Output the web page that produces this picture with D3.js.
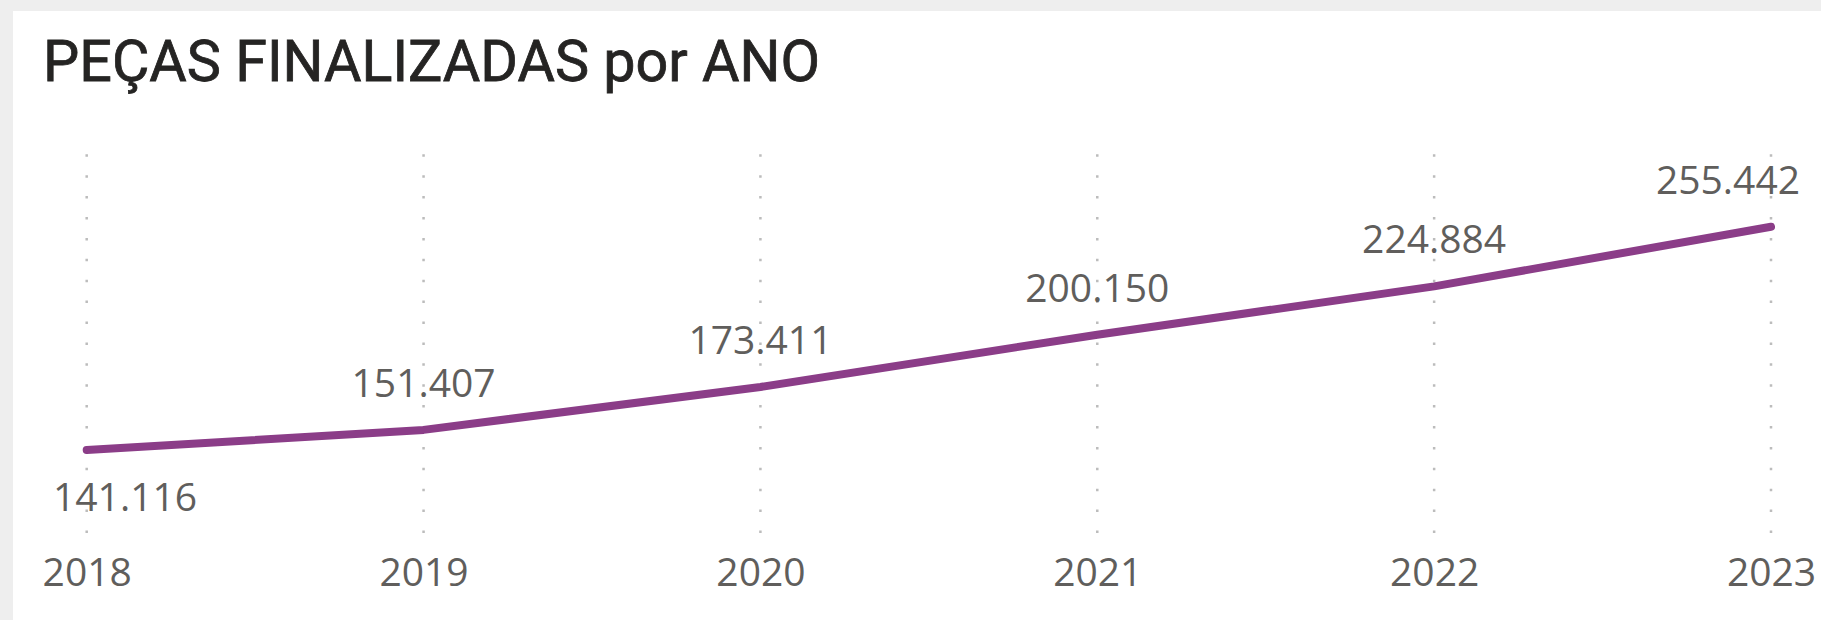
<!DOCTYPE html>
<html>
<head>
<meta charset="utf-8">
<script src="https://cdn.jsdelivr.net/npm/d3@7"></script>
<style>
  body { margin: 0; background: #eeeeee; }
  svg { display: block; }
</style>
</head>
<body>
<svg width="1821" height="620"></svg>
<script>
var years = ["2018", "2019", "2020", "2021", "2022", "2023"];
var pecas = [141116, 151407, 173411, 200150, 224884, 255442];
var titleText = "PEÇAS FINALIZADAS por ANO";

var svgWidth = 1821;
var svgHeight = 620;
var labelFont = "'Open Sans', 'Noto Sans', sans-serif";
var textColor = "#605e5c";
var lineColor = "#8b3d88";

var svg = d3.select("svg");

// white visual panel over the grey page
svg.append("rect")
    .attr("x", 13)
    .attr("y", 11)
    .attr("width", svgWidth - 13)
    .attr("height", svgHeight - 11)
    .attr("fill", "#ffffff");

svg.append("text")
    .attr("x", 43)
    .attr("y", 81)
    .attr("font-family", "Roboto, 'DejaVu Sans Condensed', sans-serif")
    .attr("font-size", 58)
    .attr("fill", "#252423")
    .attr("stroke", "#252423")
    .attr("stroke-width", 0.8)
    .attr("textLength", 777)
    .attr("lengthAdjust", "spacingAndGlyphs")
    .text(titleText);

var x = d3.scalePoint()
    .domain(years)
    .range([86.7, 1771]);

var y = d3.scaleLinear()
    .domain([100000, 300000])
    .range([530.3, 139.7]);

// dotted vertical gridlines, drawn from the bottom up so the dots line up
svg.append("g")
    .selectAll("line")
    .data(years)
    .enter()
    .append("line")
    .attr("x1", (d) => x(d))
    .attr("x2", (d) => x(d))
    .attr("y1", 533)
    .attr("y2", 153)
    .attr("stroke", "#bcbcbc")
    .attr("stroke-width", 2.5)
    .attr("stroke-dasharray", "2.5 18.4");

// x axis labels
var xAxis = d3.axisBottom(x).tickSize(0).tickPadding(0);
var axisG = svg.append("g")
    .attr("transform", "translate(0, 585.5)")
    .call(xAxis);
axisG.select(".domain").remove();
axisG.selectAll("text")
    .attr("dy", null)
    .attr("y", 0)
    .attr("font-family", labelFont)
    .attr("font-size", 39)
    .attr("fill", textColor);

var points = years.map((yr, i) => ({ year: yr, value: pecas[i] }));

var lineFunction = d3.line()
    .x((p) => x(p.year))
    .y((p) => y(p.value));

svg.append("path")
    .datum(points)
    .attr("d", lineFunction)
    .attr("fill", "none")
    .attr("stroke", lineColor)
    .attr("stroke-width", 8)
    .attr("stroke-linecap", "round")
    .attr("stroke-linejoin", "round");

// data labels, kept inside the plot area
var fmt = (v) => d3.format(",")(v).replace(/,/g, ".");
var minValue = d3.min(pecas);
var plotLeft = 53;
var plotRight = 1800;

svg.append("g")
    .selectAll("text")
    .data(points)
    .enter()
    .append("text")
    .attr("font-family", labelFont)
    .attr("font-size", 39)
    .attr("fill", textColor)
    .attr("text-anchor", "middle")
    .text((p) => fmt(p.value))
    .attr("y", (p) => p.value === minValue ? y(p.value) + 61 : y(p.value) - 33)
    .attr("x", function (p) {
        var w = this.getComputedTextLength();
        var cx = x(p.year);
        return Math.max(plotLeft + w / 2, Math.min(plotRight - w / 2, cx));
    });
</script>
</body>
</html>
